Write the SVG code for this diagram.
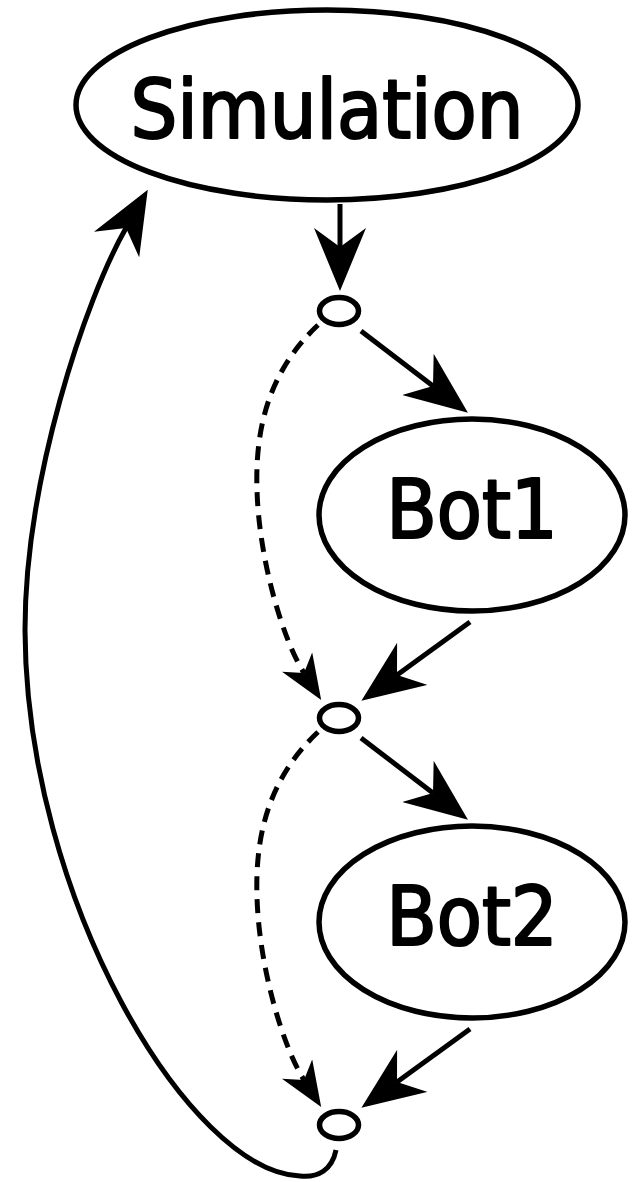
<svg xmlns="http://www.w3.org/2000/svg" width="641" height="1182" viewBox="0 0 641 1182">
<style>
.node{fill:#fff;stroke:#000;stroke-width:5.5}
.lbl{font-family:"DejaVu Sans Condensed","DejaVu Sans",sans-serif;font-stretch:condensed;font-size:82px;fill:#000;stroke:#000;stroke-width:2.2;stroke-linejoin:round;text-anchor:middle}
.edge{fill:none;stroke:#000;stroke-width:5}
.dash{stroke-dasharray:14,9}
</style>
<defs>
<marker id="ah" markerUnits="userSpaceOnUse" markerWidth="64" markerHeight="52" refX="19" refY="26" orient="auto">
<path d="M0,0 L63,26 L0,52 L19,26 Z" fill="#000" stroke="none"/>
</marker>
<marker id="ahs" markerUnits="userSpaceOnUse" markerWidth="46" markerHeight="36" refX="13" refY="18" orient="auto">
<path d="M0,0 L45,18 L0,36 L13,18 Z" fill="#000" stroke="none"/>
</marker>
</defs>
<g id="connectors">
<path class="edge" d="M340,204 L340,247" marker-end="url(#ah)"/>
<path class="edge" d="M361,331 L433,386" marker-end="url(#ah)"/>
<path class="edge" d="M470,622 L397,675" marker-end="url(#ah)"/>
<path class="edge" d="M361,738 L433,793" marker-end="url(#ah)"/>
<path class="edge" d="M470,1029 L397,1082" marker-end="url(#ah)"/>
<path class="edge dash" d="M318,325 C268,372 255,430 257,490 C259,560 283,640 304,673" marker-end="url(#ahs)"/>
<path class="edge dash" d="M318,732 C268,779 255,837 257,897 C259,967 283,1047 304,1080" marker-end="url(#ahs)"/>
<path class="edge" d="M336,1150 C332,1170 318,1178 300,1176 C190,1172 26,900 25,630 C25,480 85,300 126,228" marker-end="url(#ah)"/>
</g>
<g id="simulation">
<ellipse class="node" cx="327" cy="105" rx="251" ry="95"/>
<text class="lbl" x="327" y="138">Simulation</text>
</g>
<g id="join1">
<ellipse class="node" cx="339" cy="311" rx="19.5" ry="13.5"/>
</g>
<g id="bot1">
<ellipse class="node" cx="472" cy="515" rx="153" ry="96"/>
<text class="lbl" x="472" y="538">Bot1</text>
</g>
<g id="join2">
<ellipse class="node" cx="339" cy="718" rx="19.5" ry="13.5"/>
</g>
<g id="bot2">
<ellipse class="node" cx="472" cy="922" rx="153" ry="96"/>
<text class="lbl" x="472" y="945">Bot2</text>
</g>
<g id="join3">
<ellipse class="node" cx="339" cy="1125" rx="19.5" ry="13.5"/>
</g>
</svg>
